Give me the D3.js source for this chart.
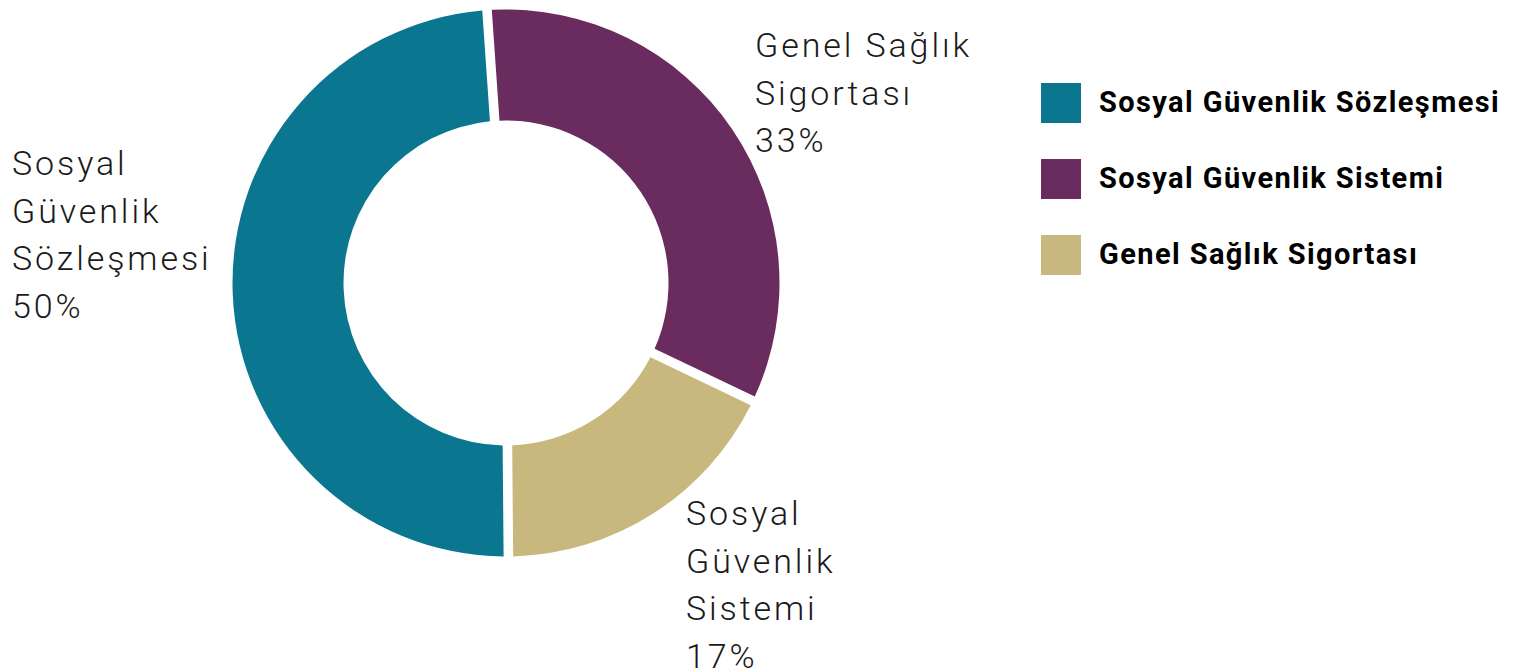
<!DOCTYPE html>
<html>
<head>
<meta charset="utf-8">
<script src="https://cdn.jsdelivr.net/npm/d3@7"></script>
<style>
  body { margin: 0; background: #fff; }
  svg { display: block; }
</style>
</head>
<body>
<div id="chart"></div>
<script>
// categories (legend order) and their colours
const categories = ["Sosyal Güvenlik Sözleşmesi", "Sosyal Güvenlik Sistemi", "Genel Sağlık Sigortası"];
const colors = ["#0a768f", "#6a2b5e", "#c8b87d"];

// slice sizes
const shares = [49.3, 33.2, 17.5];

// data labels exactly as printed next to the slices
const labelLines = [
    ["Sosyal", "Güvenlik", "Sözleşmesi", "50%"],
    ["Genel Sağlık", "Sigortası", "33%"],
    ["Sosyal", "Güvenlik", "Sistemi", "17%"]
];

function drawDonut() {
    d3.select("#chart").selectAll("*").remove();

    const width = 1526, height = 672;
    const cx = 506, cy = 283;
    const outerR = 273.5, innerR = 162.5;
    const font = "'DIN', Roboto, 'Noto Sans', sans-serif";

    const svg = d3.select("#chart").append("svg")
        .attr("width", width)
        .attr("height", height);

    const data = categories.map((name, i) => ({ name, value: shares[i], color: colors[i], lines: labelLines[i] }));

    // first slice starts at the bottom and runs clockwise
    const start = 179.5 * Math.PI / 180;
    const pie = d3.pie()
        .sort(null)
        .value(d => d.value)
        .startAngle(start)
        .endAngle(start + 2 * Math.PI)
        .padAngle(0.035);

    const arc = d3.arc()
        .innerRadius(innerR)
        .outerRadius(outerR)
        .padRadius(outerR);

    const g = svg.append("g")
        .attr("transform", `translate(${cx},${cy})`);

    g.selectAll("path.slice")
        .data(pie(data))
        .enter().append("path")
        .attr("class", "slice")
        .attr("d", arc)
        .attr("fill", d => d.data.color);

    // data labels (light weight)
    const labelAnchor = [
        { x: 12, y: 175 },
        { x: 755, y: 57 },
        { x: 686, y: 525 }
    ];
    const lineH = 47.5;

    data.forEach((d, i) => {
        const t = svg.append("text")
            .attr("x", labelAnchor[i].x)
            .attr("y", labelAnchor[i].y)
            .style("font-family", font)
            .style("font-size", "34px")
            .style("font-weight", 300)
            .style("letter-spacing", "2.9px")
            .attr("fill", "#1a1a1a");
        d.lines.forEach((line, k) => {
            t.append("tspan")
                .attr("x", labelAnchor[i].x)
                .attr("dy", k === 0 ? 0 : lineH)
                .text(line);
        });
    });

    // legend
    const legend = svg.append("g")
        .attr("transform", "translate(1041,83)");

    const item = legend.selectAll("g.item")
        .data(data)
        .enter().append("g")
        .attr("class", "item")
        .attr("transform", (d, i) => `translate(0,${i * 76})`);

    item.append("rect")
        .attr("width", 40)
        .attr("height", 40)
        .attr("fill", d => d.color);

    item.append("text")
        .attr("x", 58)
        .attr("y", 29)
        .style("font-family", font)
        .style("font-size", "29px")
        .style("font-weight", "bold")
        .style("letter-spacing", "1.4px")
        .attr("fill", "#000")
        .text(d => d.name);
}

drawDonut();
</script>
</body>
</html>
